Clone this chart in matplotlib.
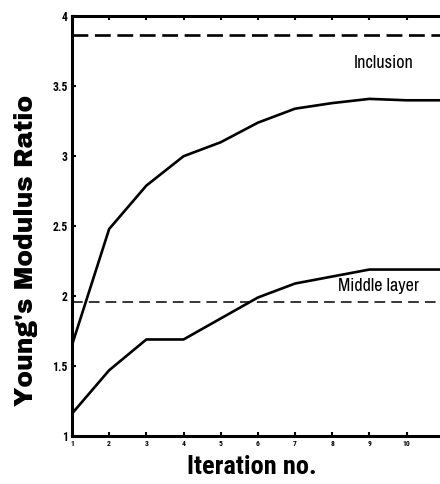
import numpy as np
import matplotlib
matplotlib.use("Agg")
import matplotlib.pyplot as plt

# dados
iteracao = [1, 2, 3, 4, 5, 6, 7, 8, 9, 10, 11]
inclusao = [1.65, 2.48, 2.79, 3.00, 3.10, 3.24, 3.34, 3.38, 3.41, 3.40, 3.40]
camada_meio = [1.16, 1.47, 1.69, 1.69, 1.84, 1.99, 2.09, 2.14, 2.19, 2.19, 2.19]
alvo_inclusao = 3.87
alvo_meio = 1.96
yticks = [1, 1.5, 2, 2.5, 3, 3.5, 4]
ylabels = ["1", "1.5", "2", "2.5", "3", "3.5", "4"]

estreita = ["Archivo Narrow", "DejaVu Sans"]
estreita_negrito = ["Roboto Condensed", "DejaVu Sans"]
pesada = ["Archivo Black", "DejaVu Sans"]

fig = plt.figure(figsize=(4.4, 4.84), dpi=100)
ax = fig.add_axes([0.1636, 0.0992, 0.845, 0.867])

ax.plot(iteracao, inclusao, color="black", lw=1.9)
ax.plot(iteracao, camada_meio, color="black", lw=1.9)
ax.axhline(alvo_inclusao, color="black", lw=1.9, dashes=(6, 2.5))
ax.axhline(alvo_meio, color="black", lw=1.1, dashes=(7, 4))

ax.text(9.39, 3.67, "Inclusion", ha="center", va="center", fontsize=13,
        family=estreita)
ax.text(9.23, 2.07, "Middle layer", ha="center", va="center", fontsize=13,
        family=estreita)

ax.set_xlim(1, 11)
ax.set_ylim(1, 4)
ax.set_xticks(iteracao)
ax.set_xticklabels([str(i) for i in iteracao], fontsize=5.5, fontweight="bold",
                   family=estreita_negrito)
ax.set_yticks(yticks)
ax.set_yticklabels(ylabels, fontsize=8.5, family=estreita_negrito, fontweight="bold")
ax.tick_params(direction="in", length=3, width=1.5, top=True, right=True, pad=3)

for s in ax.spines.values():
    s.set_linewidth(2.2)

fig.text(0.058, 1 - 250 / 484, "Young's Modulus Ratio", rotation=90, ha="center",
         va="center", fontsize=18, family=pesada)
fig.text(252 / 440, 1 - 467 / 484, "Iteration no.", ha="center", va="center",
         fontsize=19, fontweight="bold", family=estreita_negrito)

fig.savefig("out.png", dpi=100)
